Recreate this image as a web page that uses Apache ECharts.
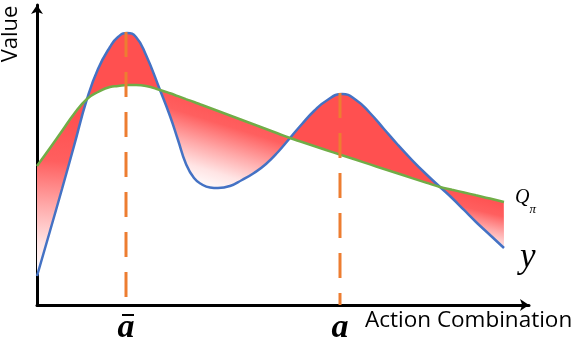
<!DOCTYPE html>
<html><head><meta charset="utf-8">
<script src="https://cdn.jsdelivr.net/npm/echarts@6/dist/echarts.min.js"></script>
<style>html,body{margin:0;padding:0;background:#fff}#c{width:572px;height:342px}</style>
</head><body><div id="c"></div>
<script>
// ---- data ----
const actionX = [0, 3.25, 6.25, 9.25, 12.5, 15.25, 18.25, 20.25, 22.5, 24.75, 27.25, 30.75, 33.25, 35.25, 37.25, 39.25, 41.25, 43.25, 45.25, 48.25, 51.25, 54.25, 57.25, 60.25, 63.25, 66.25, 69.25, 72.25, 76.25, 79.75, 83.25, 86.75, 90.25, 93.75, 97.25, 100.75, 103.75, 106.75, 109.75, 113.25, 116.75];
const yValues = [9.67, 24.67, 38.67, 53, 68.67, 78.67, 86, 89.33, 90.67, 89.33, 83.33, 71.67, 63, 55, 47, 42.33, 40.17, 39.17, 39, 39.67, 41.67, 44, 47, 51, 55.67, 60.33, 64.67, 68, 70.33, 68.33, 64, 58.67, 53.33, 48.33, 43.67, 39.33, 35.67, 31.67, 27.67, 23.33, 19];
const qValues = [46.33, 52.33, 58, 63.67, 68.67, 71, 72.67, 73, 73.33, 73.33, 73, 71.67, 70.57, 69.6, 68.63, 67.67, 66.67, 65.67, 64.67, 63.17, 61.67, 60.17, 58.67, 57.17, 55.67, 54.33, 53, 51.67, 49.93, 48.4, 46.87, 45.33, 43.83, 42.3, 40.8, 39.33, 38.4, 37.5, 36.57, 35.5, 34.33];
const markX = [22.25, 75.75];
const markTop = [91, 70.7];
const markLabels = ['a', 'a'];
const markOverline = [true, false];
const curveNames = ['y', 'Q', 'π'];
const axisTitles = ['Value', 'Action Combination'];

// ---- styles ----
const RED = '#ff5050';
const BLUE = '#4472c4';
const GREEN = '#70ad47';
const ORANGE = '#ed7d31';
const SMOOTH = 0.5;
const fade = () => new echarts.graphic.LinearGradient(0.55, 0.1, 0.35, 0.95, [
  {offset: 0, color: 'rgb(255,80,80)'},
  {offset: 0.3, color: 'rgb(255,95,95)'},
  {offset: 0.6, color: 'rgb(255,170,170)'},
  {offset: 0.85, color: 'rgb(255,228,228)'},
  {offset: 1, color: 'rgb(255,246,246)'}
]);

// regions between crossings of the two curves
const n = actionX.length;
const diff = actionX.map((_, i) => yValues[i] - qValues[i]);
const regions = [];
let cur = null;
for (let i = 0; i < n; i++) {
  const s = Math.sign(diff[i]);
  if (!cur) { cur = {start: i, end: i, sign: s}; continue; }
  cur.end = i;
  if (cur.sign === 0) cur.sign = s;
  if (s === 0 && i < n - 1) { regions.push(cur); cur = {start: i, end: i, sign: 0}; }
}
regions.push(cur);

// same bezier control points as ECharts' smoothed line
function controlPoints(pts, smooth) {
  const m = pts.length, after = new Array(m), before = new Array(m);
  after[0] = pts[0].slice();
  for (let i = 1; i < m; i++) {
    const x = pts[i][0], y = pts[i][1], px = pts[i - 1][0], py = pts[i - 1][1];
    if (i === m - 1) { before[i] = [x, y]; after[i] = [x, y]; break; }
    const nx = pts[i + 1][0], ny = pts[i + 1][1];
    let vx = nx - px, vy = ny - py;
    const l0 = Math.hypot(x - px, y - py), l1 = Math.hypot(nx - x, ny - y);
    const ratio = l1 / (l0 + l1);
    let ncx = x + vx * smooth * ratio, ncy = y + vy * smooth * ratio;
    ncx = Math.max(Math.min(ncx, Math.max(nx, x)), Math.min(nx, x));
    ncy = Math.max(Math.min(ncy, Math.max(ny, y)), Math.min(ny, y));
    vx = ncx - x; vy = ncy - y;
    let cx = x - vx * l0 / l1, cy = y - vy * l0 / l1;
    cx = Math.max(Math.min(cx, Math.max(px, x)), Math.min(px, x));
    cy = Math.max(Math.min(cy, Math.max(py, y)), Math.min(py, y));
    vx = x - cx; vy = y - cy;
    before[i] = [cx, cy];
    after[i] = [x + vx * l1 / l0, y + vy * l1 / l0];
  }
  return {after, before};
}
function bez(p0, c0, c1, p1, out) {
  const N = 10;
  for (let k = 1; k <= N; k++) {
    const t = k / N, u = 1 - t;
    out.push([
      u * u * u * p0[0] + 3 * u * u * t * c0[0] + 3 * u * t * t * c1[0] + t * t * t * p1[0],
      u * u * u * p0[1] + 3 * u * u * t * c0[1] + 3 * u * t * t * c1[1] + t * t * t * p1[1]
    ]);
  }
}

const series = [];
series.push({
  type: 'custom', silent: true, z: 1, clip: false,
  data: regions.map(r => [actionX[r.start], actionX[r.end], r.sign]),
  renderItem: function (params, api) {
    const r = regions[params.dataIndex];
    const bp = actionX.map((x, i) => api.coord([x, yValues[i]]));
    const gp = actionX.map((x, i) => api.coord([x, qValues[i]]));
    const bc = controlPoints(bp, SMOOTH), gc = controlPoints(gp, SMOOTH);
    const poly = [bp[r.start]];
    for (let i = r.start; i < r.end; i++) bez(bp[i], bc.after[i], bc.before[i + 1], bp[i + 1], poly);
    for (let i = r.end; i > r.start; i--) bez(gp[i], gc.before[i], gc.after[i - 1], gp[i - 1], poly);
    return {type: 'polygon', shape: {points: poly},
      style: {fill: r.sign > 0 ? RED : fade(), stroke: null}};
  }
});

series.push({
  type: 'line', name: curveNames[0], smooth: SMOOTH, symbol: 'none', z: 3,
  lineStyle: {color: BLUE, width: 2.5},
  data: actionX.map((x, i) => [x, yValues[i]]),
  endLabel: {show: true, formatter: '{y|' + curveNames[0] + '}', distance: 16, offset: [0, 10],
    rich: {y: {fontFamily: 'Liberation Serif', fontStyle: 'italic', fontSize: 35, color: '#000'}}}
});
series.push({
  type: 'line', name: curveNames[1], smooth: SMOOTH, symbol: 'none', z: 4,
  lineStyle: {color: GREEN, width: 2.5},
  data: actionX.map((x, i) => [x, qValues[i]]),
  endLabel: {show: true, formatter: '{q|' + curveNames[1] + '}{s|' + curveNames[2] + '}', distance: 11,
    rich: {
      q: {fontFamily: 'Liberation Serif', fontStyle: 'italic', fontSize: 20, lineHeight: 28, verticalAlign: 'top', color: '#000'},
      s: {fontFamily: 'Liberation Serif', fontStyle: 'italic', fontSize: 13, verticalAlign: 'bottom', color: '#000'}
    }}
});

markX.forEach((x, k) => {
  series.push({
    type: 'line', silent: true, z: 5, symbol: 'circle', symbolSize: 0, showSymbol: true,
    lineStyle: {color: ORANGE, width: 3, type: [25, 15]},
    data: [
      {value: [x, markTop[k]]},
      {value: [x, 0], label: {
        show: true, position: 'bottom', distance: 5,
        formatter: '{sp| }{' + (markOverline[k] ? 'bar' : 'nobar') + '| }\n{a|' + markLabels[k] + '}',
        rich: {
          sp: {width: 4, fontSize: 2, lineHeight: 10},
          bar: {width: 12, height: 2, fontSize: 2, lineHeight: 10, backgroundColor: '#000'},
          nobar: {width: 12, height: 2, fontSize: 2, lineHeight: 10},
          a: {fontFamily: 'Liberation Serif', fontStyle: 'italic', fontWeight: 'bold', fontSize: 34, lineHeight: 16, color: '#000'}
        }
      }}
    ]
  });
});

const axisCommon = {
  type: 'value',
  axisLine: {show: true, onZero: false, symbol: ['none', 'arrow'], symbolSize: [9, 9], lineStyle: {color: '#000', width: 3}},
  axisTick: {show: false}, axisLabel: {show: false}, splitLine: {show: false}
};

const chart = echarts.init(document.getElementById('c'), null, {renderer: 'canvas'});
chart.setOption({
  animation: false,
  backgroundColor: '#fff',
  grid: {left: 37, top: 5, width: 492, height: 300},
  xAxis: Object.assign({min: 0, max: 123}, axisCommon),
  yAxis: Object.assign({min: 0, max: 100}, axisCommon),
  graphic: [
    {type: 'text', x: 11, y: 34, rotation: Math.PI / 2,
     style: {text: axisTitles[0], font: '22px "Open Sans"', fill: '#000', textAlign: 'center', textVerticalAlign: 'middle', align: 'center', verticalAlign: 'middle'}},
    {type: 'text', x: 365, y: 321,
     style: {text: axisTitles[1], font: '22.5px "Open Sans"', fill: '#000', textAlign: 'left', textVerticalAlign: 'middle', align: 'left', verticalAlign: 'middle'}}
  ],
  series: series
});
</script></body></html>
